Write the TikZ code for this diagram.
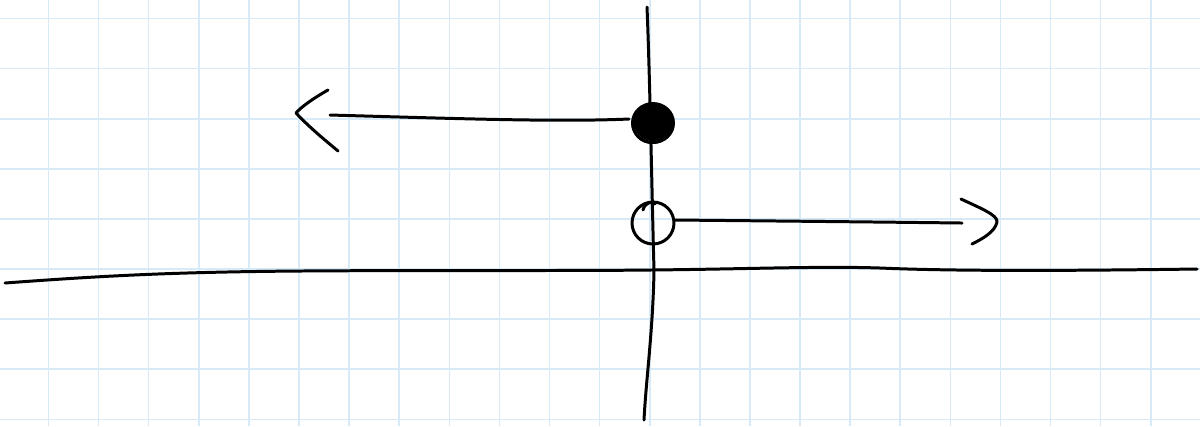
\documentclass[tikz,border=0pt]{standalone}
\begin{document}
\begin{tikzpicture}[x={(0.01cm,0)},y={(0,-0.01cm)},
  gridline/.style={draw={rgb,255:red,214;green,234;blue,248},line width=0.45pt},
  pen/.style={draw=black,line width=0.85pt,line cap=round,line join=round}]
\useasboundingbox (0,0) rectangle (1200,426);
\fill[white] (0,0) rectangle (1200,426);
% grid
\foreach \i in {0,...,23} {\draw[gridline] ({48.5+50.1*\i},0) -- ({48.5+50.1*\i},426);}
\foreach \j in {0,...,8} {\draw[gridline] (0,{18.5+50.1*\j}) -- (1200,{18.5+50.1*\j});}
% axes
\draw[pen] (5,283) .. controls (100,276) and (170,272) .. (300,271)
  .. controls (450,270) and (560,271) .. (650,270)
  .. controls (750,269) and (820,266) .. (880,268)
  .. controls (950,271) and (1050,271) .. (1197,269);
\draw[pen] (647,7) .. controls (650,80) and (652,200) .. (654,270)
  .. controls (653,330) and (646,380) .. (644,420);
% points
\coordinate (filled) at (653,123);
\coordinate (open) at (653,223);
\fill[black] (filled) ellipse [x radius=19, y radius=18];
\draw[pen] (filled) ellipse [x radius=20.5, y radius=19.5];
\draw[pen] ([shift={(-1,1)}]filled) ellipse [x radius=19, y radius=18.5];
\draw[pen] (open) circle [radius=21];
\draw[pen] (643,210) .. controls (645,202) and (652,201) .. (655,204);
% rays
\coordinate (lhead) at (330,115);
\coordinate (rhead) at (962,223);
\draw[pen] (filled) ++(-24,-4) .. controls (560,122) and (470,119) .. (lhead);
\draw[pen] (328,90) .. controls (312,99) and (300,108) .. (296,113)
  .. controls (310,128) and (325,140) .. (338,151);
\draw[pen] (open) ++(22,-3) .. controls (780,221) and (880,222) .. (rhead);
\draw[pen] (961,199) .. controls (980,208) and (998,215) .. (997,222)
  .. controls (995,232) and (982,239) .. (972,244);
\end{tikzpicture}
\end{document}
